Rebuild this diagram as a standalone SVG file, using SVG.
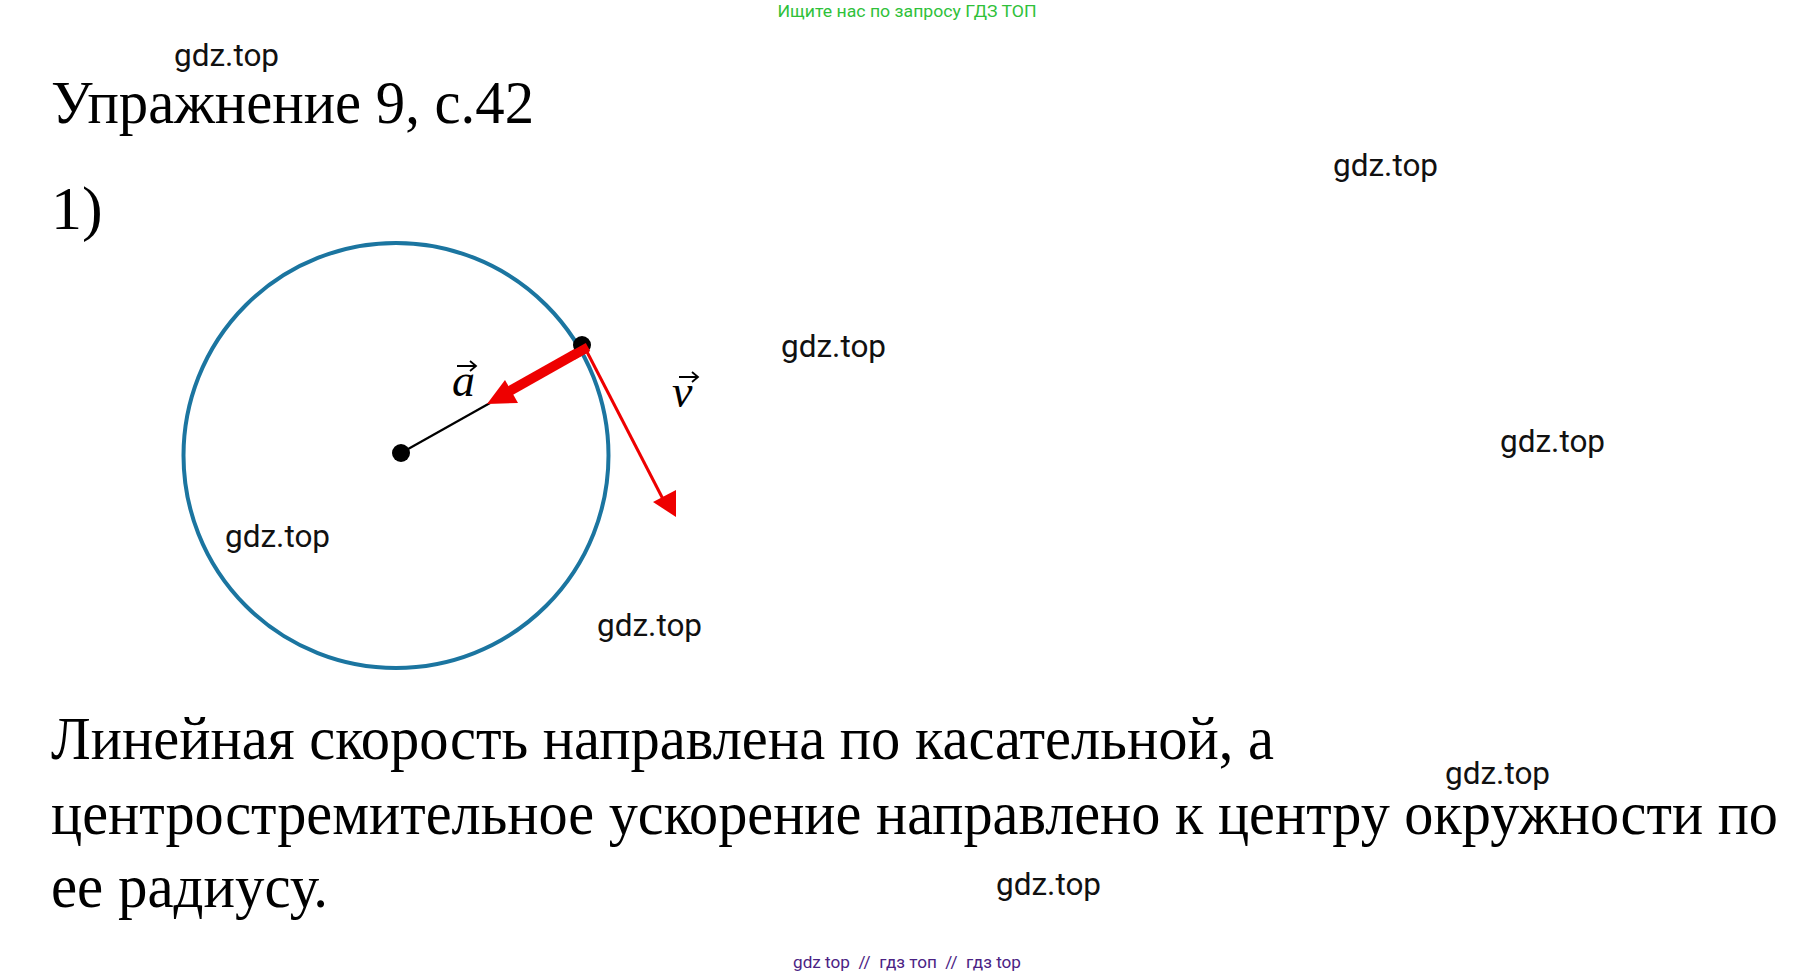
<svg xmlns="http://www.w3.org/2000/svg" width="1816" height="978" viewBox="0 0 1816 978">
<style>
.wm{font-family:Roboto,"Liberation Sans",sans-serif;font-size:31.5px;fill:#111}
.big{font-family:"Liberation Serif","DejaVu Serif",serif;fill:#000}
.math{font-family:"Liberation Serif","DejaVu Serif",serif;font-style:italic;font-size:46px;fill:#000}
.red{fill:#ee0000}
</style>
<rect width="1816" height="978" fill="#fff"/>
<text x="907" y="17" text-anchor="middle" font-family="Roboto,'Liberation Sans',sans-serif" font-size="17" fill="#2fc13a" textLength="259" lengthAdjust="spacingAndGlyphs">Ищите нас по запросу ГДЗ ТОП</text>
<text class="big" x="51" y="123" font-size="62" textLength="483" lengthAdjust="spacingAndGlyphs">Упражнение 9, с.42</text>
<text class="big" x="51" y="229" font-size="62">1)</text>
<g id="circle">
<circle cx="396" cy="455.5" r="212.5" fill="none" stroke="#1b75a0" stroke-width="4"/>
</g>
<g id="connectors">
<line x1="401" y1="453" x2="490" y2="403" stroke="#000" stroke-width="2.2"/>
<line x1="586" y1="348" x2="508" y2="392" stroke="#ee0000" stroke-width="10"/>
<polygon class="red" points="487,404 505,380 518,403"/>
<line x1="585" y1="348" x2="665" y2="503" stroke="#ee0000" stroke-width="3"/>
<polygon class="red" points="653,502 676,490 676,517"/>
</g>
<g id="center"><circle cx="401" cy="453" r="9" fill="#000"/></g>
<g id="point"><circle cx="582" cy="345" r="9" fill="#000"/><line x1="588" y1="347" x2="572" y2="356" stroke="#ee0000" stroke-width="9"/></g>
<g id="label-a">
<text class="math" x="452" y="396">a</text>
<path d="M457 366 H475 M470 361 L476 366 L470 371" fill="none" stroke="#000" stroke-width="1.8"/>
</g>
<g id="label-v">
<text class="math" x="672" y="407">v</text>
<path d="M679 377 H697 M692 372 L698 377 L692 382" fill="none" stroke="#000" stroke-width="1.8"/>
</g>
<text class="big" x="51" y="759" font-size="62" textLength="1223" lengthAdjust="spacingAndGlyphs">Линейная скорость направлена по касательной, а</text>
<text class="big" x="51" y="834" font-size="62" textLength="1727" lengthAdjust="spacingAndGlyphs">центростремительное ускорение направлено к центру окружности по</text>
<text class="big" x="51" y="907" font-size="62" textLength="277" lengthAdjust="spacingAndGlyphs">ее радиусу.</text>
<text class="wm" x="174" y="66">gdz.top</text>
<text class="wm" x="1333" y="176">gdz.top</text>
<text class="wm" x="781" y="357">gdz.top</text>
<text class="wm" x="1500" y="452">gdz.top</text>
<text class="wm" x="225" y="547">gdz.top</text>
<text class="wm" x="597" y="636">gdz.top</text>
<text class="wm" x="1445" y="784">gdz.top</text>
<text class="wm" x="996" y="895">gdz.top</text>
<text x="793" y="968" font-family="Roboto,'Liberation Sans',sans-serif" font-size="17" fill="#4b2384" textLength="228" lengthAdjust="spacingAndGlyphs" xml:space="preserve">gdz top  //  гдз топ  //  гдз top</text>
</svg>
